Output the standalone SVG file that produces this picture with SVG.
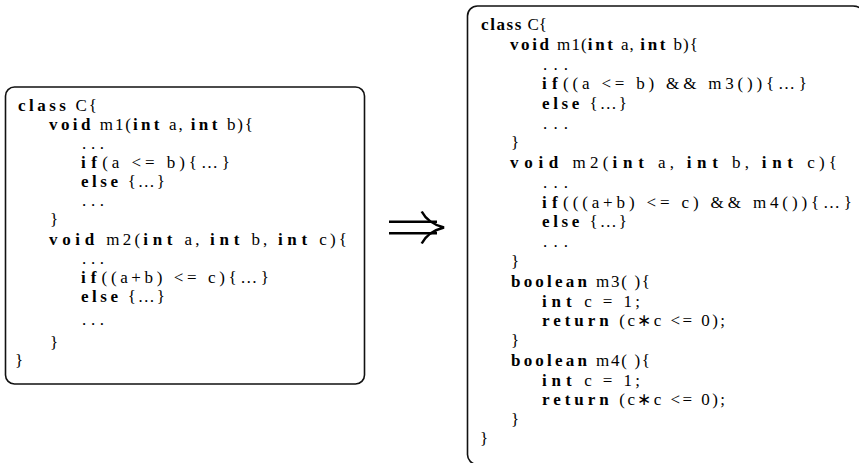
<svg xmlns="http://www.w3.org/2000/svg" width="859" height="463" viewBox="0 0 859 463">
  <style>
    .box { fill: none; stroke: #111; stroke-width: 1.6; }
    .code { font-family: "Liberation Serif", "Times New Roman", serif; font-size: 17px; fill: #000; }
    .kw { font-weight: bold; letter-spacing: 1.5px; }
    .arrow { fill: none; stroke: #000; stroke-width: 2.5; stroke-linecap: butt; }
  </style>
  <rect width="859" height="463" fill="#fff"/>

  <!-- original class -->
  <g id="class-before">
    <rect class="box" x="5.5" y="87" width="359" height="297" rx="9"/>
    <text class="code" x="18" y="111" textLength="79" lengthAdjust="spacing"><tspan class="kw">class</tspan> C{</text>
    <text class="code" x="49" y="130" textLength="204" lengthAdjust="spacing"><tspan class="kw">void</tspan> m1(<tspan class="kw">int</tspan> a, <tspan class="kw">int</tspan> b){</text>
    <text class="code" x="82" y="149" textLength="22" lengthAdjust="spacing">...</text>
    <text class="code" x="81" y="168" textLength="149" lengthAdjust="spacing"><tspan class="kw">if</tspan>(a &lt;= b){…}</text>
    <text class="code" x="81" y="187" textLength="84" lengthAdjust="spacing"><tspan class="kw">else</tspan> {…}</text>
    <text class="code" x="82" y="206" textLength="22" lengthAdjust="spacing">...</text>
    <text class="code" x="50" y="225">}</text>
    <text class="code" x="49" y="245" textLength="298" lengthAdjust="spacing"><tspan class="kw">void</tspan> m2(<tspan class="kw">int</tspan> a, <tspan class="kw">int</tspan> b, <tspan class="kw">int</tspan> c){</text>
    <text class="code" x="82" y="264" textLength="22" lengthAdjust="spacing">...</text>
    <text class="code" x="81" y="283" textLength="188" lengthAdjust="spacing"><tspan class="kw">if</tspan>((a+b) &lt;= c){…}</text>
    <text class="code" x="81" y="302" textLength="84" lengthAdjust="spacing"><tspan class="kw">else</tspan> {…}</text>
    <text class="code" x="82" y="325" textLength="22" lengthAdjust="spacing">...</text>
    <text class="code" x="50" y="348">}</text>
    <text class="code" x="15" y="366">}</text>
  </g>

  <!-- transformed class: the frame runs past the right and bottom edges of the canvas -->
  <g id="class-after">
    <path class="box" d="M862 12 Q861 6 853 6 H477.5 A10 10 0 0 0 467.5 16 V454 A10 10 0 0 0 477.5 464.5 H862"/>
    <text class="code" x="481" y="30" textLength="66" lengthAdjust="spacing"><tspan class="kw">class</tspan> C{</text>
    <text class="code" x="510" y="50" textLength="188" lengthAdjust="spacing"><tspan class="kw">void</tspan> m1(<tspan class="kw">int</tspan> a, <tspan class="kw">int</tspan> b){</text>
    <text class="code" x="543" y="70" textLength="25" lengthAdjust="spacing">...</text>
    <text class="code" x="542" y="89" textLength="265" lengthAdjust="spacing"><tspan class="kw">if</tspan>((a &lt;= b) &amp;&amp; m3()){…}</text>
    <text class="code" x="542" y="109" textLength="85" lengthAdjust="spacing"><tspan class="kw">else</tspan> {…}</text>
    <text class="code" x="543" y="129" textLength="25" lengthAdjust="spacing">...</text>
    <text class="code" x="511" y="148">}</text>
    <text class="code" x="510" y="168" textLength="327" lengthAdjust="spacing"><tspan class="kw">void</tspan> m2(<tspan class="kw">int</tspan> a, <tspan class="kw">int</tspan> b, <tspan class="kw">int</tspan> c){</text>
    <text class="code" x="543" y="188" textLength="25" lengthAdjust="spacing">...</text>
    <text class="code" x="542" y="208" textLength="310" lengthAdjust="spacing"><tspan class="kw">if</tspan>(((a+b) &lt;= c) &amp;&amp; m4()){…}</text>
    <text class="code" x="542" y="227" textLength="85" lengthAdjust="spacing"><tspan class="kw">else</tspan> {…}</text>
    <text class="code" x="543" y="247" textLength="25" lengthAdjust="spacing">...</text>
    <text class="code" x="511" y="267">}</text>
    <text class="code" x="511" y="287" textLength="139" lengthAdjust="spacing"><tspan class="kw">boolean</tspan> m3( ){</text>
    <text class="code" x="542" y="307" textLength="98" lengthAdjust="spacing"><tspan class="kw">int</tspan> c = 1;</text>
    <text class="code" x="542" y="326" textLength="183" lengthAdjust="spacing"><tspan class="kw">return</tspan> (c∗c &lt;= 0);</text>
    <text class="code" x="511" y="346">}</text>
    <text class="code" x="511" y="366" textLength="139" lengthAdjust="spacing"><tspan class="kw">boolean</tspan> m4( ){</text>
    <text class="code" x="542" y="386" textLength="98" lengthAdjust="spacing"><tspan class="kw">int</tspan> c = 1;</text>
    <text class="code" x="542" y="405" textLength="183" lengthAdjust="spacing"><tspan class="kw">return</tspan> (c∗c &lt;= 0);</text>
    <text class="code" x="511" y="425">}</text>
    <text class="code" x="480" y="444">}</text>
  </g>

  <!-- double arrow between the two versions -->
  <g id="connectors">
    <path class="arrow" d="M389 221.7 H437 M389 233.3 H437"/>
    <path class="arrow" d="M421.7 211.5 Q428 223.5 444 227.5 Q428 231.5 421.7 243.5"/>
  </g>
</svg>
